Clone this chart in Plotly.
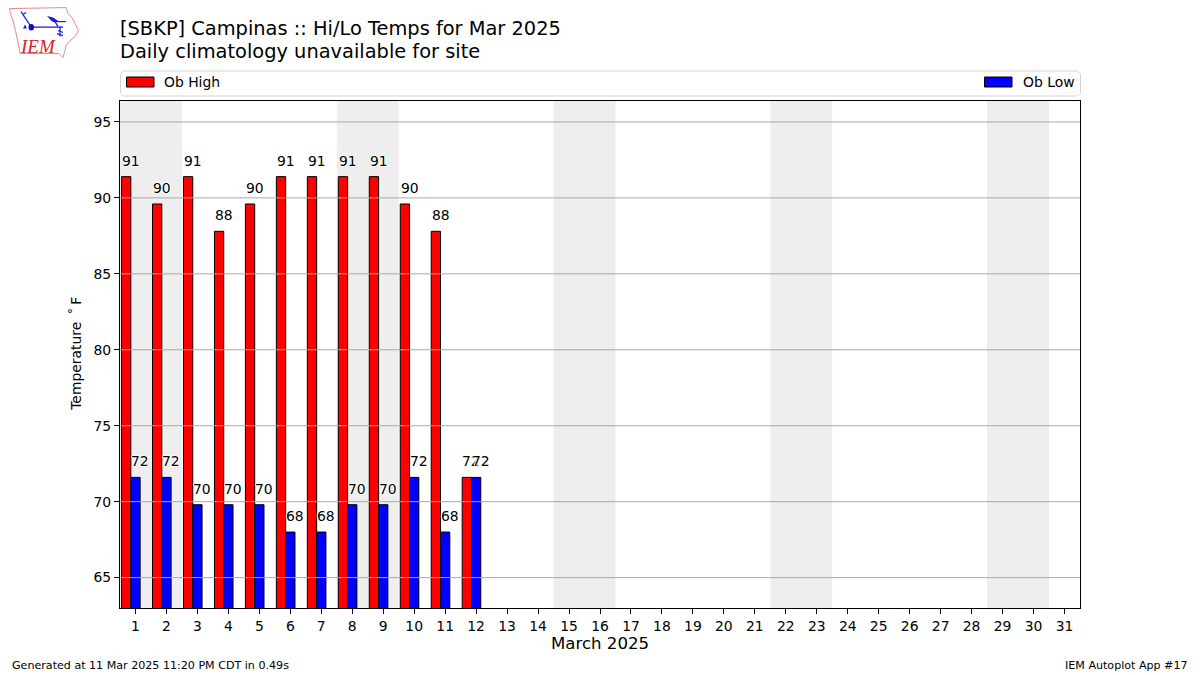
import plotly.graph_objects as go

days = list(range(1, 32))
obs_days = list(range(1, 13))
ob_high = [91.4, 89.6, 91.4, 87.8, 89.6, 91.4, 91.4, 91.4, 91.4, 89.6, 87.8, 71.6]
ob_low = [71.6, 71.6, 69.8, 69.8, 69.8, 68.0, 68.0, 69.8, 69.8, 71.6, 68.0, 71.6]
high_labels = ["91", "90", "91", "88", "90", "91", "91", "91", "91", "90", "88", "72"]
low_labels = ["72", "72", "70", "70", "70", "68", "68", "70", "70", "72", "68", "72"]
weekend_spans = [(0.5, 2.5), (7.5, 9.5), (14.5, 16.5), (21.5, 23.5), (28.5, 30.5)]
y_ticks = [65, 70, 75, 80, 85, 90, 95]

title_1 = "[SBKP] Campinas :: Hi/Lo Temps for Mar 2025"
title_2 = "Daily climatology unavailable for site"
footer_left = "Generated at 11 Mar 2025 11:20 PM CDT in 0.49s"
footer_right = "IEM Autoplot App #17"

FONT = "DejaVu Sans"
L, R, T, B = 120.0, 1080.0, 100.5, 608.0
W, H = 1200, 675
BAR_W = 0.3


def px(x):
    return (x - L) / (R - L)


def py(y):
    return (B - y) / (B - T)


def path(points, close=True):
    s = "M" + " L".join(f"{px(a):.5f},{py(b):.5f}" for a, b in points)
    return s + (" Z" if close else "")


fig = go.Figure()
fig.add_bar(x=[d - BAR_W for d in obs_days], y=ob_high, width=BAR_W, name="Ob High",
            marker=dict(color="#ff0000", line=dict(color="black", width=1)))
fig.add_bar(x=obs_days, y=ob_low, width=BAR_W, name="Ob Low",
            marker=dict(color="#0000ff", line=dict(color="black", width=1)))

shapes = []
for a, b in weekend_spans:
    shapes.append(dict(type="rect", xref="x", yref="paper", x0=a, x1=b, y0=0, y1=1,
                       fillcolor="#eeeeee", line_width=0, layer="below"))
for v in y_ticks:
    shapes.append(dict(type="line", xref="paper", yref="y", x0=0, x1=1, y0=v, y1=v,
                       line=dict(color="#a8a8a8", width=1), layer="above"))
# legend frame and keys
r = 3
x0, x1, y0, y1 = 120.5, 1080.5, 70.5, 95.5
shapes.append(dict(type="path", xref="paper", yref="paper", layer="above",
                   line=dict(color="#d5d5d5", width=1), fillcolor="rgba(255,255,255,0)",
                   path=path([(x0 + r, y0), (x1 - r, y0), (x1, y0 + r), (x1, y1 - r),
                              (x1 - r, y1), (x0 + r, y1), (x0, y1 - r), (x0, y0 + r)])))
for kx, color in ((126.5, "#ff0000"), (984.5, "#0000ff")):
    shapes.append(dict(type="rect", xref="paper", yref="paper", layer="above",
                       x0=px(kx), x1=px(kx + 27.5), y0=py(86.5), y1=py(76.5),
                       fillcolor=color, line=dict(color="black", width=1)))
# logo: state outline and station plot
outline = [(9.5, 8), (66, 7), (68, 13), (72, 17), (75, 23), (78.5, 30), (75, 36), (69, 41),
           (66, 45), (65, 50), (63, 57), (59, 53), (20, 53), (18, 42), (15.5, 30), (13, 20), (11, 15)]
shapes.append(dict(type="path", xref="paper", yref="paper", layer="above",
                   line=dict(color="#e58a8a", width=1), path=path(outline)))
blue = "#1a1ae0"
for seg in ([(31, 26.5), (63, 26.5)], [(31, 26), (23, 14)], [(23, 14), (21, 11)], [(23, 14), (26, 12)],
            [(53, 21), (66, 21)], [(55, 21), (58, 26)], [(60, 26), (60, 36)], [(58, 30), (63, 32)],
            [(57, 33), (63, 35)]):
    shapes.append(dict(type="path", xref="paper", yref="paper", layer="above",
                       line=dict(color=blue, width=1.2), path=path(seg, close=False)))
shapes.append(dict(type="path", xref="paper", yref="paper", layer="above", line_width=0,
                   fillcolor=blue, path=path([(47, 15.5), (53, 17), (59, 21), (52, 21)])))
shapes.append(dict(type="circle", xref="paper", yref="paper", layer="above", line_width=0,
                   fillcolor="#1010c0", x0=px(28.5), x1=px(34), y0=py(23.5), y1=py(30)))
shapes.append(dict(type="path", xref="paper", yref="paper", layer="above", line_width=0,
                   fillcolor=blue, path=path([(25, 24), (27, 28), (23, 28)])))

halo = "white -1px 0 1px, white 1px 0 1px, white 0 -1px 1px, white 0 1px 1px"
annotations = []
for values, labels, dx in (
    (ob_high, high_labels, -BAR_W / 2),
    (ob_low, low_labels, BAR_W / 2),
):
    for d, v, t in zip(obs_days, values, labels):
        annotations.append(dict(x=d + dx, y=v, text=t, xref="x", yref="y", showarrow=False,
                                yanchor="bottom", yshift=6,
                                font=dict(family=FONT, size=13.9, color="black", shadow=halo)))


def text(x, y, s, size, anchor="left", color="black", family=FONT, style="normal", rotate=0):
    annotations.append(dict(x=px(x), y=py(y), text=s, xref="paper", yref="paper", showarrow=False,
                            xanchor=anchor, yanchor="middle", textangle=rotate, borderpad=0,
                            font=dict(family=family, size=size, color=color, style=style)))


text(119, 28, title_1, 19.4)
text(119, 50.5, title_2, 19.4)
text(163, 81.5, "Ob High", 13.9)
text(1022, 81.5, "Ob Low", 13.9)
text(600, 644, "March 2025", 16.6, anchor="center")
text(76, 353.5, "Temperature \u2009˚\u2009F", 13.9, anchor="center", rotate=-90)
text(11, 666, footer_left, 11.1)
text(1189, 666, footer_right, 11.1, anchor="right")
text(18.5, 45.5, "IEM", 19, color="#d8232a", family="Liberation Serif", style="italic")

fig.update_layout(
    width=W, height=H, autosize=False, showlegend=False, barmode="overlay",
    margin=dict(l=L, r=W - R, t=T, b=H - B, autoexpand=False),
    plot_bgcolor="white", paper_bgcolor="white",
    font=dict(family=FONT, size=13.9, color="black"),
    shapes=shapes, annotations=annotations,
    xaxis=dict(range=[0.5, 31.5], tickmode="array", tickvals=days, ticktext=[str(d) for d in days],
               ticks="outside", ticklen=5, tickwidth=1, tickcolor="black", showgrid=False,
               showline=True, mirror=True, linecolor="black", linewidth=1, zeroline=False,
               tickfont=dict(size=13.9), layer="above traces"),
    yaxis=dict(range=[63.0, 96.38], tickmode="array", tickvals=y_ticks, ticktext=[str(v) for v in y_ticks],
               ticks="outside", ticklen=5, tickwidth=1, tickcolor="black", showgrid=False,
               showline=True, mirror=True, linecolor="black", linewidth=1, zeroline=False,
               tickfont=dict(size=13.9), layer="above traces"),
)
fig.write_html("out.html", config={"displayModeBar": False},
               post_script="document.body.style.margin='0';document.body.style.overflow='hidden';")
